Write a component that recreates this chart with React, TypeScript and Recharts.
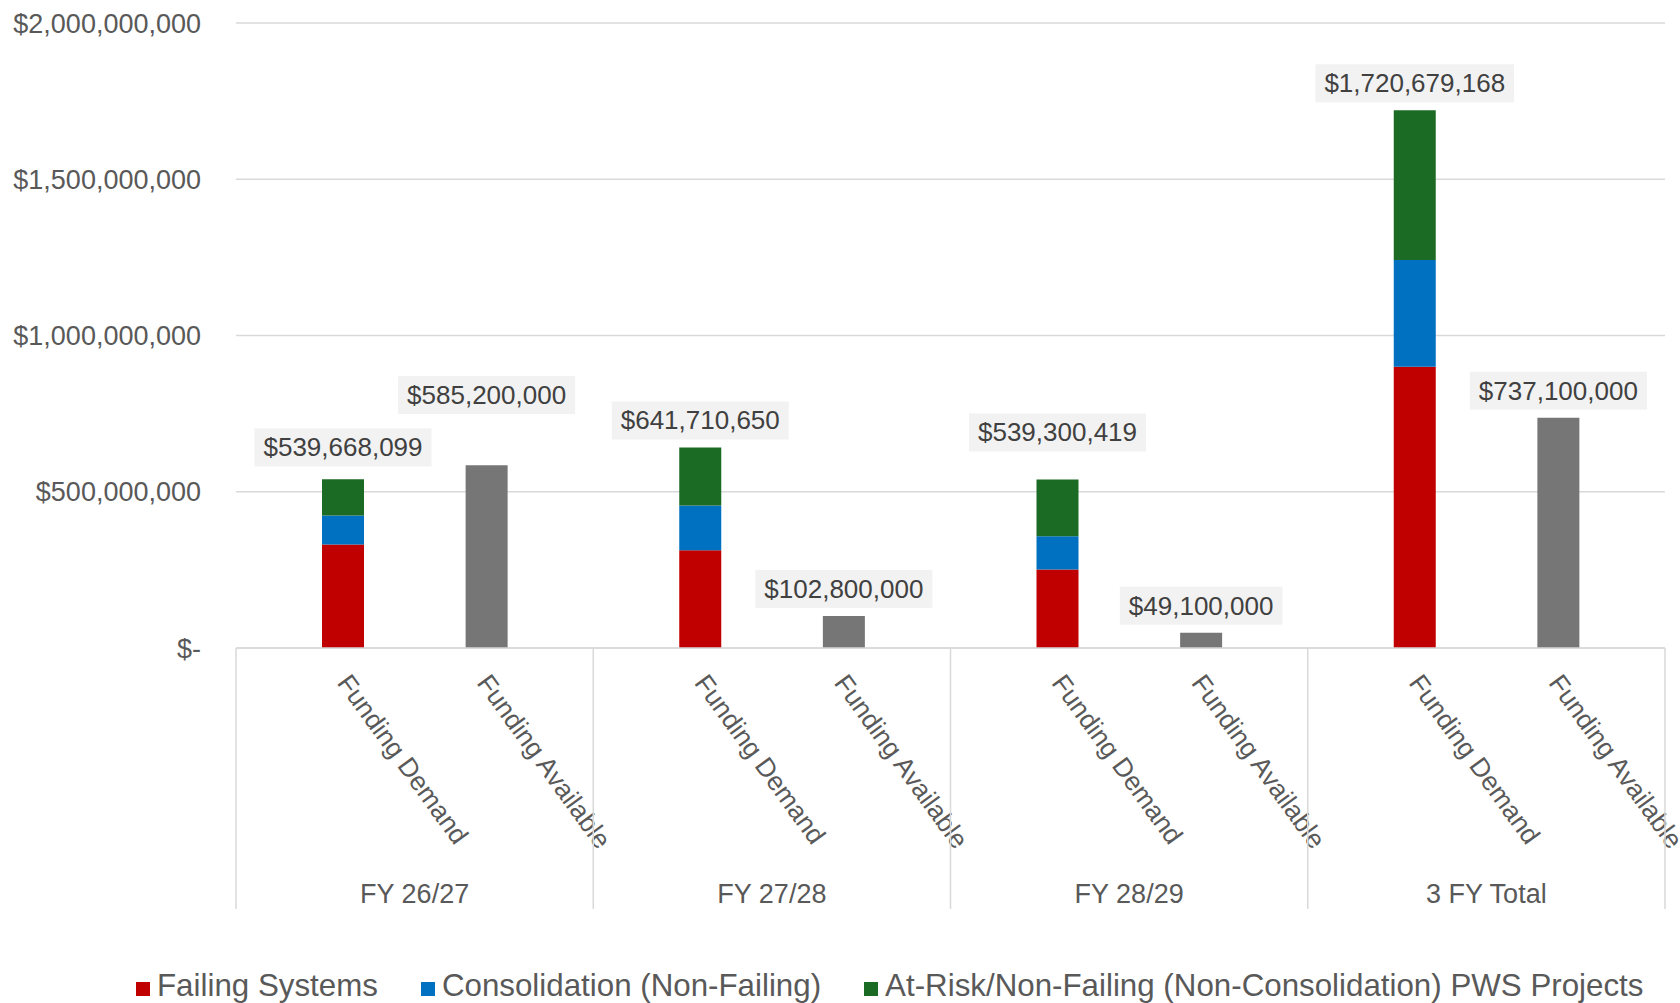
import React from 'react';
import { BarChart, Bar, XAxis, YAxis, CartesianGrid, LabelList } from 'recharts';

// values (dollars)
const groups = ['FY 26/27', 'FY 27/28', 'FY 28/29', '3 FY Total'];
const barKinds = ['Funding Demand', 'Funding Available'];
const failingSystems = [331000000, 313000000, 251000000, 900000000];
const consolidation = [93000000, 143000000, 107000000, 342000000];
const demandTotal = [539668099, 641710650, 539300419, 1720679168];
const fundingAvailable = [585200000, 102800000, 49100000, 737100000];
const yTicks = [0, 500000000, 1000000000, 1500000000, 2000000000];

const seriesNames = [
  'Failing Systems',
  'Consolidation (Non-Failing)',
  'At-Risk/Non-Failing (Non-Consolidation) PWS Projects'
];
const seriesColors = ['#C00000', '#0070C0', '#1C6B24'];
const availColor = '#767676';

const FONT = '"Liberation Sans", Arial, sans-serif';
const W = 1680;
const H = 1003;
const PLOT_LEFT = 236;
const PLOT_RIGHT = 1665;
const BAND = (PLOT_RIGHT - PLOT_LEFT) / 8;
// labels were hand-placed in the source chart; extra lift per group
const demandLabelLift = [5, 0, 20, 0];
const availLabelLift = [43, 0, 0, 0];

const rows = groups.flatMap((g, i) => [
  {
    key: `${g}|${barKinds[0]}`,
    group: g,
    kind: barKinds[0],
    failing: failingSystems[i],
    consolidation: consolidation[i],
    atRisk: demandTotal[i] - failingSystems[i] - consolidation[i],
    total: demandTotal[i]
  },
  {
    key: `${g}|${barKinds[1]}`,
    group: g,
    kind: barKinds[1],
    available: fundingAvailable[i]
  }
]);

const money = (v: number) => (v === 0 ? '$-' : '$' + v.toLocaleString('en-US'));

function CategoryTick(props: any) {
  const { x, y, payload } = props;
  const idx = payload.index;
  const row = rows[idx];
  const isFirst = idx % 2 === 0;
  const isLast = idx === rows.length - 1;
  // demand bars sit right of the slot centre, available bars left of it
  const ax = x + (isFirst ? 11 : -28);
  const ay = y + 35;
  return (
    <g>
      <text
        x={ax}
        y={ay}
        transform={`rotate(54 ${ax} ${ay})`}
        fontSize={26.3}
        fontFamily={FONT}
        fill="#595959"
      >
        {row.kind}
      </text>
      {isFirst && (
        <line x1={x - BAND / 2} x2={x - BAND / 2} y1={y} y2={y + 261} stroke="#d9d9d9" strokeWidth={1.5} />
      )}
      {isFirst && (
        <text x={x + BAND / 2} y={y + 255} textAnchor="middle" fontSize={27} fontFamily={FONT} fill="#595959">
          {row.group}
        </text>
      )}
      {isLast && (
        <line x1={x + BAND / 2} x2={x + BAND / 2} y1={y} y2={y + 261} stroke="#d9d9d9" strokeWidth={1.5} />
      )}
    </g>
  );
}

function makeLabel(values: number[], lifts: number[]) {
  return function ValueLabel(props: any) {
    const { x, y, width, value } = props;
    if (value == null) return null;
    const gi = values.indexOf(value);
    const text = money(value);
    let w = 18;
    for (const ch of text) w += ch === ',' ? 7.23 : 14.46;
    const h = 38;
    const cx = x + width / 2;
    const bottom = y - 8 - (gi >= 0 ? lifts[gi] : 0);
    return (
      <g>
        <rect x={cx - w / 2} y={bottom - h} width={w} height={h} fill="#F2F2F2" />
        <text x={cx} y={bottom - 10} textAnchor="middle" fontSize={26} fontFamily={FONT} fill="#404040">
          {text}
        </text>
      </g>
    );
  };
}

const DemandLabel = makeLabel(demandTotal, demandLabelLift);
const AvailLabel = makeLabel(fundingAvailable, availLabelLift);

export default function App() {
  return (
    <div style={{ position: 'absolute', left: 0, top: 0, width: W, height: H, background: '#fff' }}>
      <BarChart
        width={W}
        height={H}
        data={rows}
        margin={{ top: 23, right: W - PLOT_RIGHT, left: 0, bottom: 0 }}
        barSize={42}
        barGap={-7}
      >
        <CartesianGrid vertical={false} stroke="#d9d9d9" strokeWidth={1.5} />
        <XAxis
          dataKey="key"
          interval={0}
          height={355}
          tickLine={false}
          tickSize={0}
          tickMargin={0}
          axisLine={{ stroke: '#d9d9d9', strokeWidth: 1.5 }}
          tick={<CategoryTick />}
        />
        <YAxis
          width={PLOT_LEFT}
          domain={[0, 2000000000]}
          ticks={yTicks}
          interval={0}
          axisLine={false}
          tickLine={false}
          tickSize={0}
          tickMargin={35}
          tickFormatter={money}
          tick={{ fontSize: 27, fontFamily: FONT, fill: '#595959' }}
        />
        <Bar dataKey="available" stackId="avail" fill={availColor} isAnimationActive={false}>
          <LabelList dataKey="available" content={<AvailLabel />} />
        </Bar>
        <Bar dataKey="failing" stackId="demand" fill={seriesColors[0]} name={seriesNames[0]} isAnimationActive={false} />
        <Bar dataKey="consolidation" stackId="demand" fill={seriesColors[1]} name={seriesNames[1]} isAnimationActive={false} />
        <Bar dataKey="atRisk" stackId="demand" fill={seriesColors[2]} name={seriesNames[2]} isAnimationActive={false}>
          <LabelList dataKey="total" content={<DemandLabel />} />
        </Bar>
      </BarChart>
      <div
        style={{
          position: 'absolute',
          left: 136,
          top: 970,
          whiteSpace: 'nowrap',
          fontFamily: FONT,
          fontSize: 31.3,
          lineHeight: '31px',
          color: '#595959'
        }}
      >
        {seriesNames.map((name, i) => (
          <span key={name} style={{ marginRight: 43 }}>
            <span
              style={{
                display: 'inline-block',
                width: 14,
                height: 14,
                background: seriesColors[i],
                marginRight: 7
              }}
            />
            {name}
          </span>
        ))}
      </div>
    </div>
  );
}
